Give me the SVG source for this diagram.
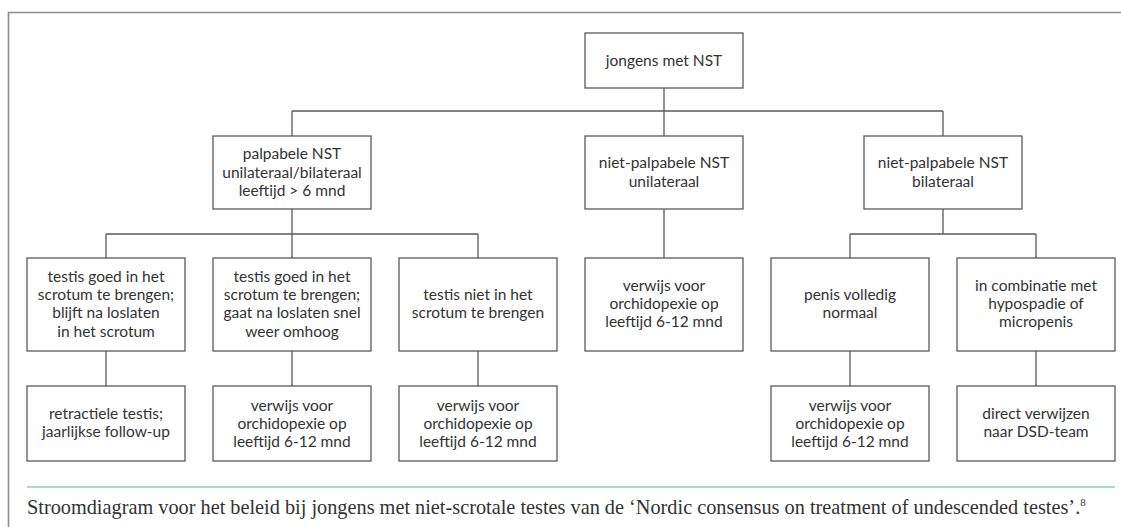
<svg xmlns="http://www.w3.org/2000/svg" width="1121" height="527" viewBox="0 0 1121 527">
<style>
.frame{fill:none;stroke:#8c8c8c;stroke-width:1.6}
.box{fill:#fff;stroke:#5a5a5a;stroke-width:1.3}
.conn{fill:none;stroke:#5a5a5a;stroke-width:1.3}
.t{font-family:Lato,"Liberation Sans",sans-serif;font-size:15.5px;fill:#333;text-anchor:middle}
.cap{font-family:"Liberation Serif",serif;font-size:20.3px;fill:#333}
</style>
<rect width="1121" height="527" fill="#fff"/>
<path class="frame" d="M8.5,527 V12.5 H1121"/>
<g id="connectors">
<path class="conn" d="M664,88 V111 M292,111 H943 M292,111 V136 M664,111 V136 M943,111 V136"/>
<path class="conn" d="M292,209 V234 M106,234 H478 M106,234 V258 M292,234 V258 M478,234 V258"/>
<path class="conn" d="M664,209 V258"/>
<path class="conn" d="M943,209 V234 M850,234 H1036 M850,234 V258 M1036,234 V258"/>
<path class="conn" d="M106,351 V386 M292,351 V386 M478,351 V386 M850,351 V386 M1036,351 V386"/>
</g>
<g id="n-root"><rect class="box" x="585" y="33" width="158" height="55"/><text class="t" x="664" y="66">jongens met NST</text></g>
<g id="n-palp"><rect class="box" x="213" y="136" width="158" height="73"/><text class="t" x="292" y="159">palpabele NST</text><text class="t" x="292" y="177.5">unilateraal/bilateraal</text><text class="t" x="292" y="196">leeftijd &gt; 6 mnd</text></g>
<g id="n-uni"><rect class="box" x="585" y="136" width="158" height="73"/><text class="t" x="664" y="168">niet-palpabele NST</text><text class="t" x="664" y="187">unilateraal</text></g>
<g id="n-bil"><rect class="box" x="864" y="136" width="158" height="73"/><text class="t" x="943" y="168">niet-palpabele NST</text><text class="t" x="943" y="187">bilateraal</text></g>
<g id="n-a"><rect class="box" x="27" y="258" width="158" height="93"/><text class="t" x="106" y="282">testis goed in het</text><text class="t" x="106" y="300">scrotum te brengen;</text><text class="t" x="106" y="318">blijft na loslaten</text><text class="t" x="106" y="337">in het scrotum</text></g>
<g id="n-b"><rect class="box" x="213" y="258" width="158" height="93"/><text class="t" x="292" y="282">testis goed in het</text><text class="t" x="292" y="300">scrotum te brengen;</text><text class="t" x="292" y="318">gaat na loslaten snel</text><text class="t" x="292" y="337">weer omhoog</text></g>
<g id="n-c"><rect class="box" x="399" y="258" width="158" height="93"/><text class="t" x="478" y="300">testis niet in het</text><text class="t" x="478" y="318">scrotum te brengen</text></g>
<g id="n-uni2"><rect class="box" x="585" y="258" width="158" height="93"/><text class="t" x="664" y="291">verwijs voor</text><text class="t" x="664" y="309">orchidopexie op</text><text class="t" x="664" y="327">leeftijd 6-12 mnd</text></g>
<g id="n-d"><rect class="box" x="771" y="258" width="158" height="93"/><text class="t" x="850" y="300">penis volledig</text><text class="t" x="850" y="318">normaal</text></g>
<g id="n-e"><rect class="box" x="957" y="258" width="158" height="93"/><text class="t" x="1036" y="291">in combinatie met</text><text class="t" x="1036" y="309">hypospadie of</text><text class="t" x="1036" y="327">micropenis</text></g>
<g id="n-a2"><rect class="box" x="27" y="386" width="158" height="75"/><text class="t" x="106" y="419">retractiele testis;</text><text class="t" x="106" y="437">jaarlijkse follow-up</text></g>
<g id="n-b2"><rect class="box" x="213" y="386" width="158" height="75"/><text class="t" x="292" y="411">verwijs voor</text><text class="t" x="292" y="429">orchidopexie op</text><text class="t" x="292" y="447">leeftijd 6-12 mnd</text></g>
<g id="n-c2"><rect class="box" x="399" y="386" width="158" height="75"/><text class="t" x="478" y="411">verwijs voor</text><text class="t" x="478" y="429">orchidopexie op</text><text class="t" x="478" y="447">leeftijd 6-12 mnd</text></g>
<g id="n-d2"><rect class="box" x="771" y="386" width="158" height="75"/><text class="t" x="850" y="411">verwijs voor</text><text class="t" x="850" y="429">orchidopexie op</text><text class="t" x="850" y="447">leeftijd 6-12 mnd</text></g>
<g id="n-e2"><rect class="box" x="957" y="386" width="158" height="75"/><text class="t" x="1036" y="419">direct verwijzen</text><text class="t" x="1036" y="437">naar DSD-team</text></g>
<line x1="27" y1="487" x2="1115" y2="487" stroke="#a6dbd0" stroke-width="2"/>
<text class="cap" x="27" y="514">Stroomdiagram voor het beleid bij jongens met niet-scrotale testes van de ‘Nordic consensus on treatment of undescended testes’.<tspan font-size="11" dy="-8">8</tspan></text>
</svg>
